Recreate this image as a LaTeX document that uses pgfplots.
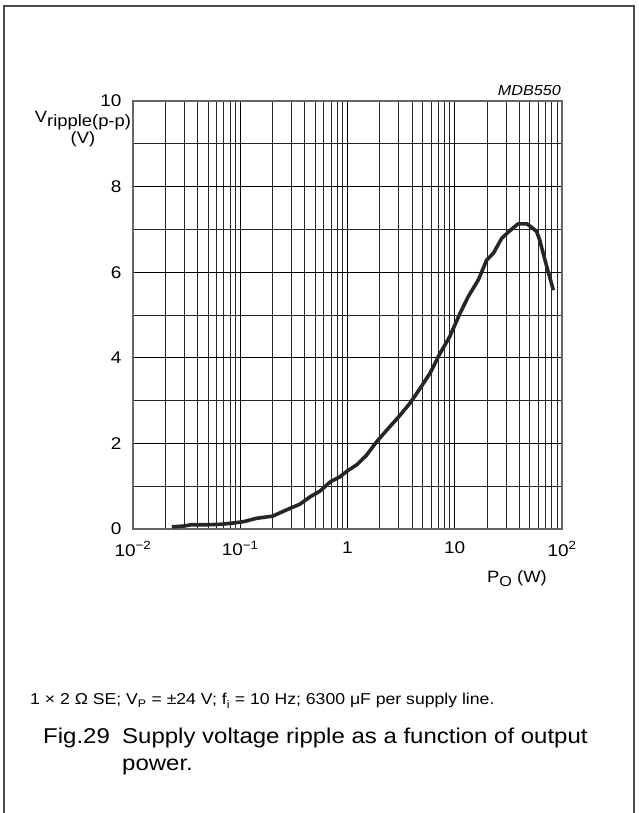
\documentclass[border=0pt]{standalone}
\usepackage{fontspec}
\setmainfont{Liberation Sans}[FakeStretch=1.12]
\usepackage{pgfplots}
\pgfplotsset{compat=1.18}
\begin{document}
\begin{tikzpicture}
\path[use as bounding box] (0bp,0bp) rectangle (639bp,813bp);
\draw[line width=1.5bp, black!70] (4bp,-1bp) -- (4bp,807bp) -- (634bp,807bp) -- (634bp,-1bp);
\begin{axis}[at={(133bp,284bp)}, anchor=south west, scale only axis,
  width=429bp, height=428bp,
  xmode=log, log basis x=10, xmin=0.01, xmax=100, ymin=0, ymax=10,
  xtick={0.01,0.1,1,10,100},
  xticklabels={10\textsuperscript{−2},10\textsuperscript{−1},1,10,10\textsuperscript{2}},
  minor xtick={0.02,0.03,0.04,0.05,0.06,0.07,0.08,0.09,0.2,0.3,0.4,0.5,0.6,0.7,0.8,0.9,2,3,4,5,6,7,8,9,20,30,40,50,60,70,80,90},
  ytick={0,2,4,6,8,10}, yticklabels={0,2,4,6,8,10},
  minor ytick={1,3,5,7,9},
  grid=both,
  major grid style={black, line width=0.7bp},
  minor grid style={black!85, line width=0.7bp},
  major tick length=0pt, minor tick length=0pt,
  axis line style={black!60, line width=1.2bp},
  xticklabel style={font=\fontsize{17}{20}\selectfont, yshift=-9bp},
  yticklabel style={font=\fontsize{17}{20}\selectfont, xshift=-8bp},
]
\addplot[black!85, line width=3.6bp, line join=round, line cap=butt] coordinates {
(0.023,0.05) (0.030,0.07) (0.035,0.10) (0.050,0.10) (0.065,0.11) (0.080,0.13)
(0.107,0.17) (0.142,0.25) (0.20,0.30) (0.29,0.48) (0.36,0.58) (0.447,0.75)
(0.55,0.88) (0.69,1.10) (0.85,1.22) (1.0,1.36) (1.22,1.50) (1.5,1.72)
(1.87,2.04) (2.4,2.35) (3.0,2.62) (3.83,2.94) (4.8,3.30) (5.88,3.64)
(7.28,4.10) (9.0,4.50) (11.2,5.04) (13.5,5.45) (16.6,5.82) (19.8,6.28)
(23,6.45) (27.4,6.79) (32,6.95) (39,7.13) (47,7.13) (52,7.05) (58,6.95)
(62,6.75) (70,6.25) (83,5.58)
};
\end{axis}
\node[anchor=base east, inner sep=0pt, font=\fontsize{14.5}{16}\selectfont\itshape] at (561bp,717bp) {MDB550};
\node[anchor=base, inner sep=0pt, font=\fontsize{16.5}{18}\selectfont] at (83bp,690bp) {V\raisebox{-0.45ex}{ripple(p-p)}};
\node[anchor=base, inner sep=0pt, font=\fontsize{16.5}{18}\selectfont] at (83bp,669bp) {(V)};
\node[anchor=base, inner sep=0pt, font=\fontsize{16.5}{18}\selectfont] at (517bp,230bp) {P\raisebox{-0.45ex}{\fontsize{14.5}{16}\selectfont O} (W)};
\node[anchor=base west, inner sep=0pt, font=\fontsize{15.8}{18}\selectfont] at (30bp,108bp)
  {1 × 2 Ω SE; V\textsubscript{P} = ±24 V; f\textsubscript{i} = 10 Hz; 6300 μF per supply line.};
\node[anchor=base west, inner sep=0pt, font=\fontsize{21.5}{24}\selectfont] at (43bp,69bp) {Fig.29};
\node[anchor=base west, inner sep=0pt, font=\fontsize{21.5}{24}\selectfont] at (122bp,69bp) {Supply voltage ripple as a function of output};
\node[anchor=base west, inner sep=0pt, font=\fontsize{21.5}{24}\selectfont] at (122bp,42bp) {power.};
\end{tikzpicture}
\end{document}
